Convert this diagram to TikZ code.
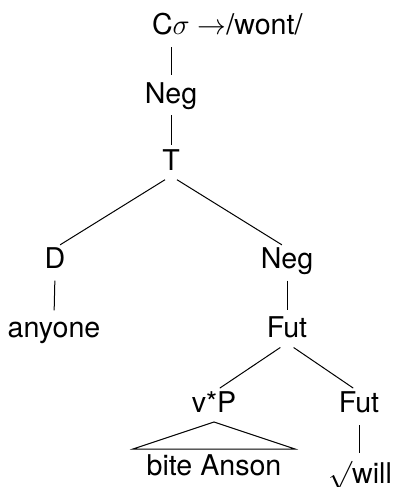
\documentclass[tikz,border=0pt]{standalone}
\usepackage{fontspec}
\setmainfont{TeX Gyre Heros}
\begin{document}
\begin{tikzpicture}[x=0.5pt,y=-0.5pt,
  lbl/.style={anchor=base,inner sep=0pt,outer sep=0pt,text height=10pt,text depth=3pt,font=\fontsize{14.3pt}{17pt}\selectfont},
  branch/.style={line width=0.5pt,shorten <=3.3pt,shorten >=3.3pt}]
\useasboundingbox (0,0) rectangle (392,487);
\node[lbl,anchor=base west] (c) at (152,34) {C$\sigma$ $\rightarrow$/wont/};
\node[lbl] (neg1) at (171,103) {Neg};
\node[lbl] (t) at (171,170) {T};
\node[lbl] (d) at (55,268) {D};
\node[lbl] (neg2) at (287,268) {Neg};
\node[lbl] (any) at (54,337) {anyone};
\node[lbl] (fut1) at (287,337) {Fut};
\node[lbl] (vp) at (214,412) {v*P};
\node[lbl] (fut2) at (359,412) {Fut};
\node[lbl] (ba) at (214,475) {bite Anson};
\node[lbl] (will) at (360,483) {$\surd$will};
\draw[branch,shorten <=3.5pt,shorten >=4pt] (c.south -| neg1.north) -- (neg1.north);
\draw[branch,shorten <=3pt,shorten >=2.5pt] (neg1.south) -- (t.north);
\draw[branch,shorten <=3.5pt,shorten >=3pt] (t.south) -- (d.north);
\draw[branch,shorten <=3.5pt,shorten >=3pt] (t.south) -- (neg2.north);
\draw[branch] (d.south) -- (any.north);
\draw[branch] (neg2.south) -- (fut1.north);
\draw[branch,shorten <=4pt,shorten >=3.5pt] (fut1.south) -- (vp.north);
\draw[branch,shorten <=4pt,shorten >=3.5pt] (fut1.south) -- (fut2.north);
\draw[branch,shorten <=3.5pt,shorten >=5pt] (fut2.south) -- (fut2.south |- will.north);
\draw[line width=0.5pt,line join=miter] ([yshift=-2pt]vp.south) -- ([xshift=-40.5pt,yshift=3pt]ba.north) -- ([xshift=40.5pt,yshift=3pt]ba.north) -- cycle;
\end{tikzpicture}
\end{document}
